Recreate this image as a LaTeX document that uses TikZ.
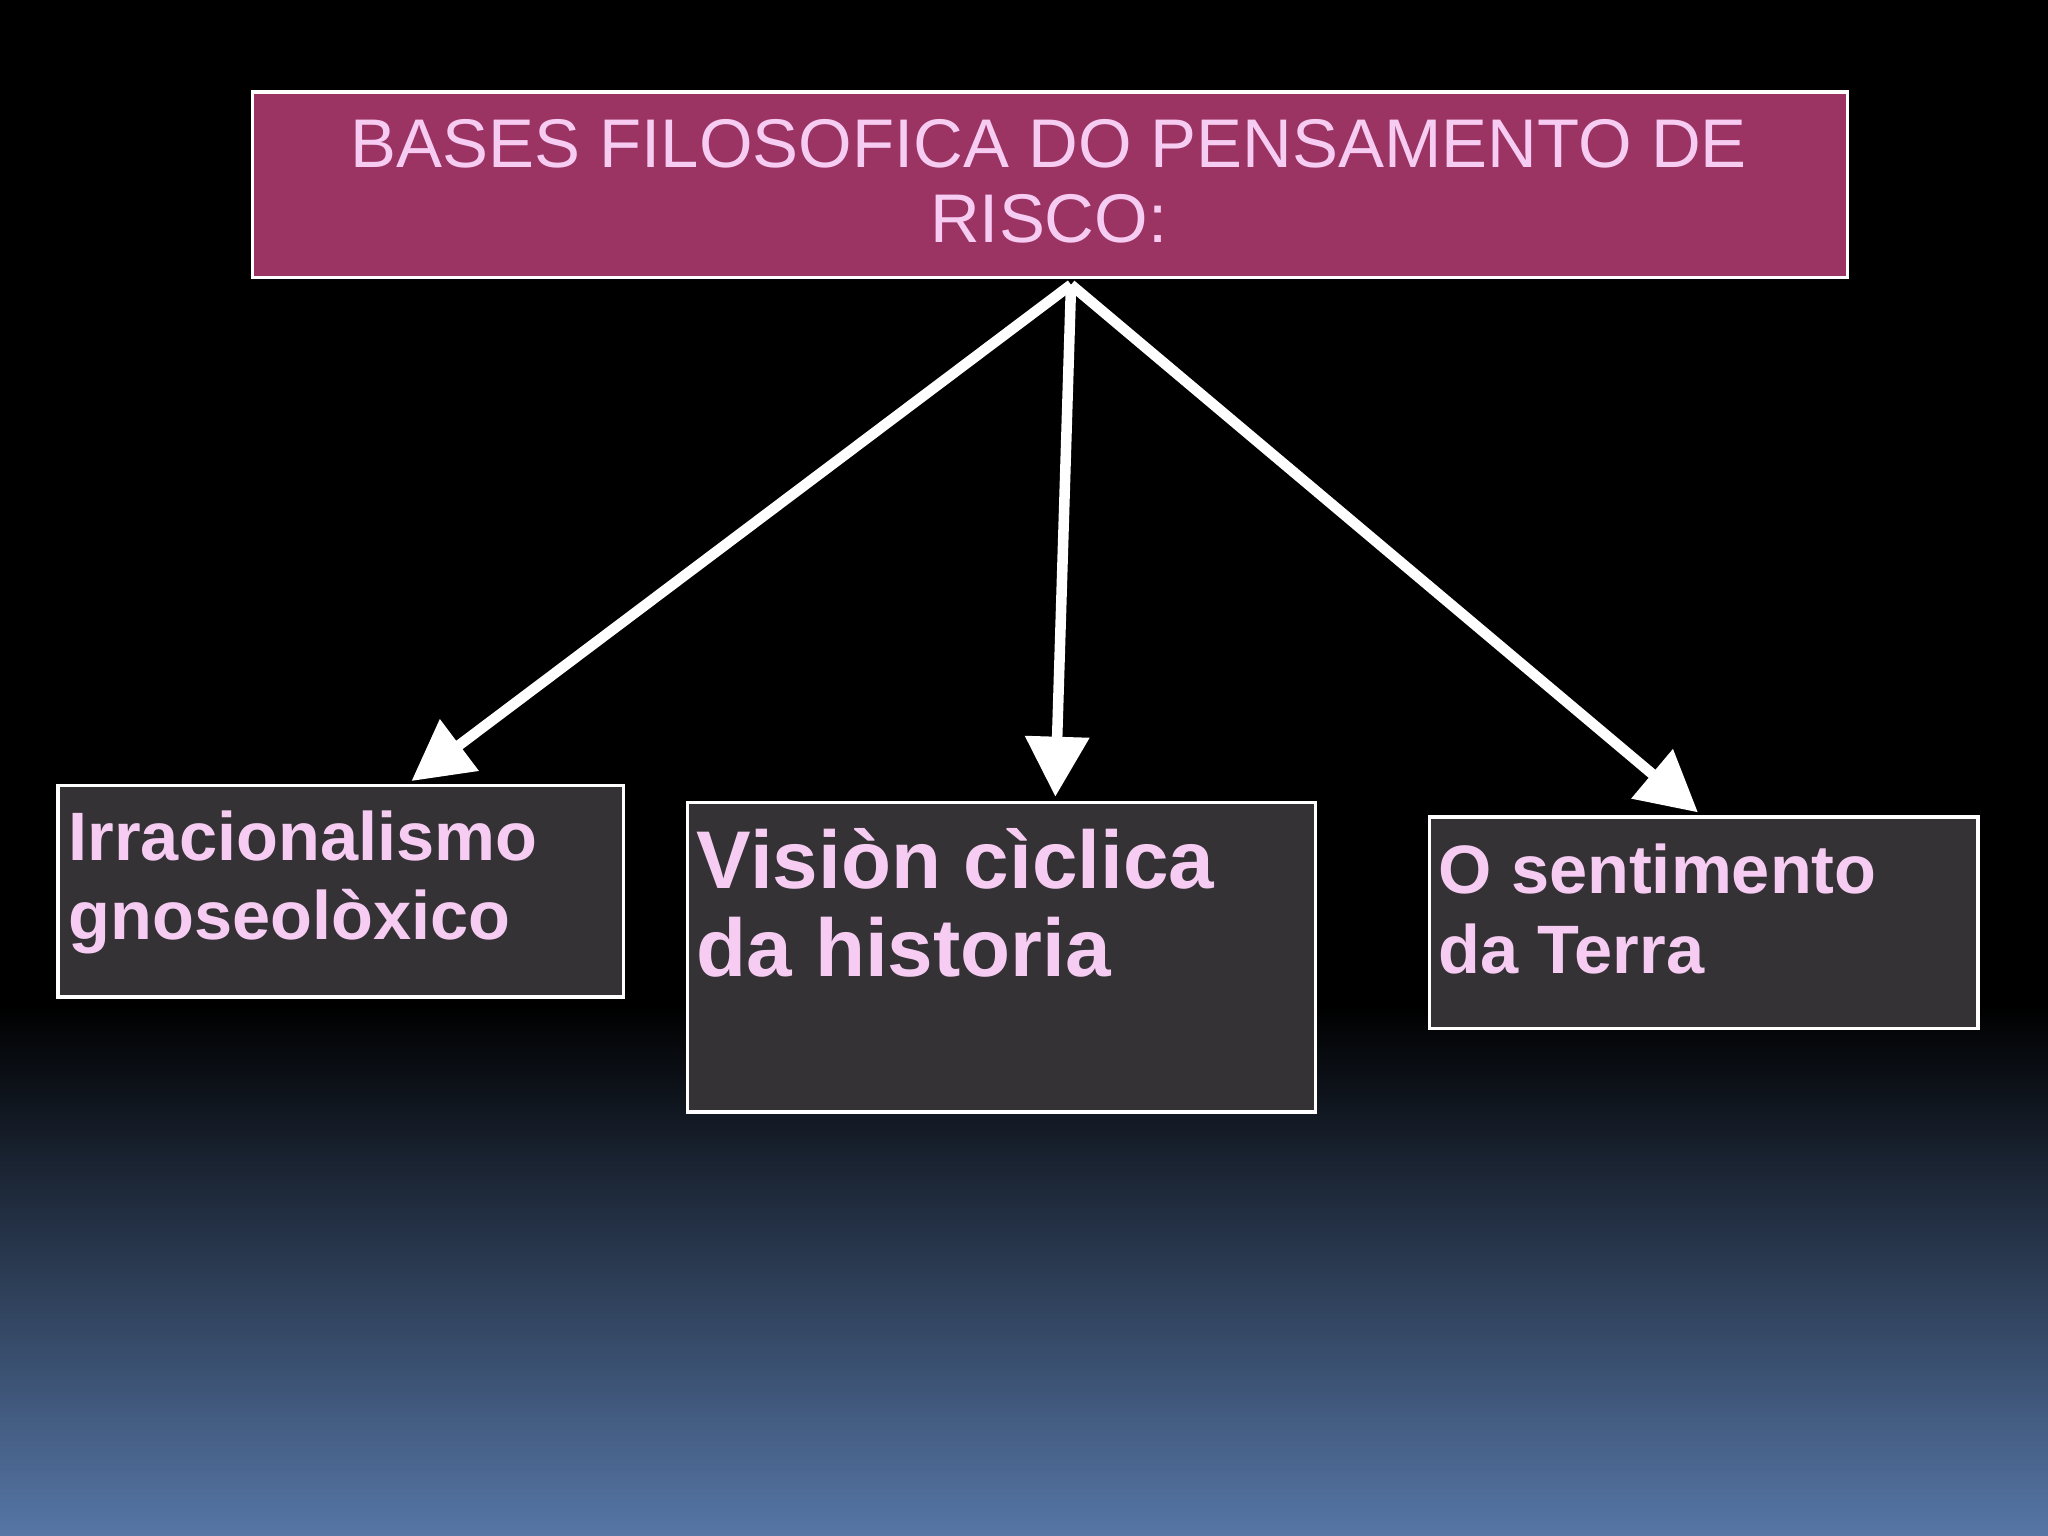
\documentclass[tikz,border=0pt]{standalone}
\usepackage{fontspec}
\setmainfont{Liberation Sans}
\usetikzlibrary{arrows.meta}
\definecolor{titlefill}{RGB}{155,51,99}
\definecolor{pinktxt}{RGB}{246,204,242}
\definecolor{boxfill}{RGB}{52,50,53}
\definecolor{bgbottom}{RGB}{86,118,166}
\tikzset{
 box/.style={draw=white, line width=1pt, fill=boxfill},
 arr/.style={white, line width=3pt, -{Triangle[length=0.6cm,width=0.62cm]}},
 lbl/.style={anchor=base west, inner sep=0, text=pinktxt, align=left}
}
\begin{document}
\begin{tikzpicture}[x=0.0130612cm,y=-0.0130612cm]
\fill[black] (0,0) rectangle (1568,1176);
\shade[top color=black, bottom color=bgbottom] (0,770) rectangle (1568,1176);
\useasboundingbox (0,0) rectangle (1568,1176);
\node[draw=white, line width=1pt, fill=titlefill, minimum width=1221*0.0130612cm, minimum height=142*0.0130612cm, anchor=north west, inner sep=0] (title) at (192,69) {};
\node[text=pinktxt, align=center, font=\fontsize{19.6}{21.5}\selectfont, anchor=base] (tt) at (803,186) {BASES FILOSOFICA DO PENSAMENTO DE\\RISCO:};
\node[box, minimum width=433*0.0130612cm, minimum height=162*0.0130612cm, anchor=north west, inner sep=0] (b1) at (43,600) {};
\node[box, minimum width=481*0.0130612cm, minimum height=237*0.0130612cm, anchor=north west, inner sep=0] (b2) at (525,613) {};
\node[box, minimum width=420*0.0130612cm, minimum height=162*0.0130612cm, anchor=north west, inner sep=0] (b3) at (1093,624) {};
\node[lbl, font=\bfseries\fontsize{19.5}{22.3}\selectfont] (t1) at (52,719) {Irracionalismo\\gnoseolòxico};
\node[lbl, font=\bfseries\fontsize{23.3}{25.3}\selectfont] (t2) at (533,748) {Visiòn cìclica\\da historia};
\node[lbl, font=\bfseries\fontsize{19.5}{22.7}\selectfont] (t3) at (1101,745) {O sentimento\\da Terra};
\coordinate (src) at (820,218);
\coordinate (e1) at (315,598);
\coordinate (e2) at (808,610);
\coordinate (e3) at (1300,622);
\draw[arr] (src) -- (e1);
\draw[arr] (src) -- (e2);
\draw[arr] (src) -- (e3);
\end{tikzpicture}
\end{document}
